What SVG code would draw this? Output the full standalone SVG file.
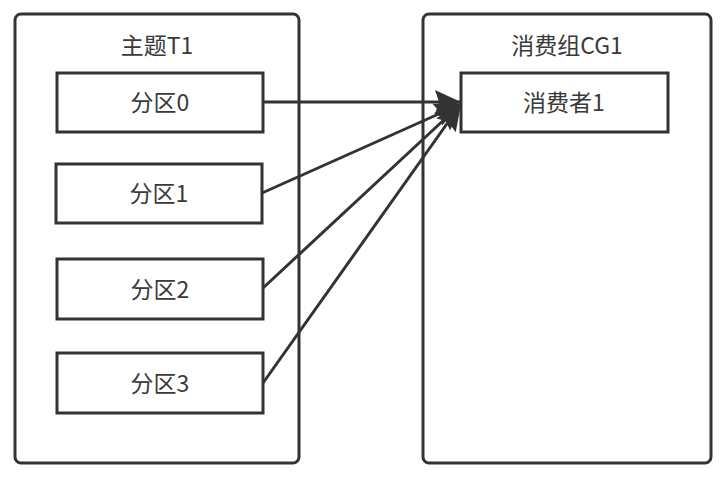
<svg xmlns="http://www.w3.org/2000/svg" width="720" height="484" viewBox="0 0 720 484">
<style>
.box{fill:#fff;stroke:#333;stroke-width:3}
.t{font-family:"Noto Sans CJK SC","Noto Sans",sans-serif;font-size:23px;fill:#3a3a3a;text-anchor:middle}
.c{stroke:#333;stroke-width:3;fill:none}
</style>
<defs>
<marker id="ah" markerUnits="userSpaceOnUse" markerWidth="30" markerHeight="28" viewBox="0 0 30 28" refX="28" refY="14" orient="auto">
<path d="M2,2 L28,14 L2,26 L6,14 Z" fill="#333"/>
</marker>
</defs>
<rect width="720" height="484" fill="#fff"/>
<g id="topic">
<rect class="box" x="15" y="14" width="284" height="449" rx="6"/>
<text class="t" x="157" y="54">主题T1</text>
</g>
<g id="group">
<rect class="box" x="423" y="14" width="288" height="449" rx="6"/>
<text class="t" x="567" y="54">消费组CG1</text>
</g>
<g id="p0"><rect class="box" x="57" y="73" width="206" height="59"/><text class="t" x="160" y="111">分区0</text></g>
<g id="p1"><rect class="box" x="56" y="164" width="206" height="59"/><text class="t" x="159" y="202">分区1</text></g>
<g id="p2"><rect class="box" x="57" y="259" width="206" height="60"/><text class="t" x="160" y="298">分区2</text></g>
<g id="p3"><rect class="box" x="57" y="353" width="206" height="60"/><text class="t" x="160" y="392">分区3</text></g>
<g id="c1"><rect class="box" x="461" y="73" width="207" height="59"/><text class="t" x="564" y="111">消费者1</text></g>
<g id="connectors">
<line class="c" x1="263" y1="102" x2="461" y2="102" marker-end="url(#ah)"/>
<line class="c" x1="262" y1="193" x2="461" y2="104" marker-end="url(#ah)"/>
<line class="c" x1="263" y1="288" x2="461" y2="104" marker-end="url(#ah)"/>
<line class="c" x1="263" y1="383" x2="461" y2="104" marker-end="url(#ah)"/>
</g>
</svg>
